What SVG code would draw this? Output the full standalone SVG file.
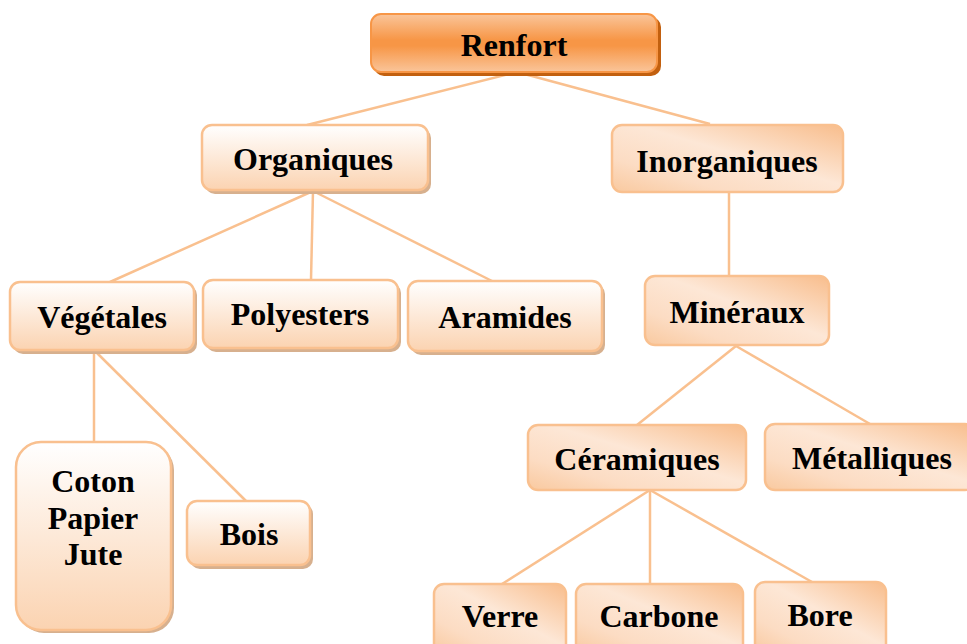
<svg xmlns="http://www.w3.org/2000/svg" width="967" height="644" viewBox="0 0 967 644">
<defs>
<linearGradient id="gTop" x1="0" y1="0" x2="0" y2="1">
<stop offset="0" stop-color="#fac59a"/>
<stop offset="0.45" stop-color="#f79646"/>
<stop offset="0.55" stop-color="#f79646"/>
<stop offset="1" stop-color="#fac59a"/>
</linearGradient>
<linearGradient id="gV" x1="0" y1="0" x2="0" y2="1">
<stop offset="0" stop-color="#ffffff"/>
<stop offset="1" stop-color="#fbd3b1"/>
</linearGradient>
<linearGradient id="gD" x1="1" y1="0" x2="0" y2="1">
<stop offset="0" stop-color="#f8bd8c"/>
<stop offset="0.45" stop-color="#fde7d6"/>
<stop offset="0.75" stop-color="#fcdcc3"/>
<stop offset="1" stop-color="#f9c99f"/>
</linearGradient>
</defs>
<style>
.t{font-family:"Liberation Serif","Times New Roman",serif;font-weight:bold;font-size:32px;fill:#000;text-anchor:middle}
.bv{fill:url(#gV);stroke:#f9c08f;stroke-width:2.5}
.bd{fill:url(#gD);stroke:#f9c08f;stroke-width:2.5}
.sh{fill:#d7b08e}
.ln{stroke:#f9c08f;stroke-width:2.5;fill:none}
</style>
<g id="connectors">
<line class="ln" x1="517" y1="72" x2="307" y2="125"/>
<line class="ln" x1="517" y1="72" x2="710" y2="124"/>
<line class="ln" x1="313" y1="191" x2="110" y2="282"/>
<line class="ln" x1="313" y1="191" x2="311" y2="280"/>
<line class="ln" x1="313" y1="191" x2="492" y2="281"/>
<line class="ln" x1="729" y1="192" x2="729" y2="276"/>
<line class="ln" x1="736" y1="346" x2="637" y2="425"/>
<line class="ln" x1="736" y1="346" x2="870" y2="424"/>
<line class="ln" x1="94" y1="350" x2="94" y2="442"/>
<line class="ln" x1="94" y1="350" x2="246" y2="501"/>
<line class="ln" x1="650" y1="490" x2="502" y2="584"/>
<line class="ln" x1="650" y1="490" x2="650" y2="584"/>
<line class="ln" x1="650" y1="490" x2="812" y2="582"/>
</g>
<g id="renfort">
<rect x="374" y="17" width="287" height="59" rx="10" fill="#c2600f"/>
<rect x="371" y="14" width="286" height="58" rx="10" fill="url(#gTop)" stroke="#f79646" stroke-width="2"/>
<text class="t" x="514" y="56">Renfort</text>
</g>
<g id="organiques">
<rect class="sh" x="205" y="128" width="226" height="66" rx="10"/>
<rect class="bv" x="202" y="125" width="226" height="65" rx="10"/>
<text class="t" x="313" y="170">Organiques</text>
</g>
<g id="inorganiques">
<rect class="bd" x="612" y="125" width="231" height="67" rx="10"/>
<text class="t" x="727" y="172">Inorganiques</text>
</g>
<g id="vegetales">
<rect class="sh" x="13" y="285" width="184" height="69" rx="10"/>
<rect class="bv" x="10" y="282" width="184" height="68" rx="10"/>
<text class="t" x="102" y="328">Végétales</text>
</g>
<g id="polyesters">
<rect class="sh" x="206" y="283" width="195" height="69" rx="10"/>
<rect class="bv" x="203" y="280" width="195" height="68" rx="10"/>
<text class="t" x="300" y="325">Polyesters</text>
</g>
<g id="aramides">
<rect class="sh" x="411" y="284" width="194" height="71" rx="10"/>
<rect class="bv" x="408" y="281" width="194" height="70" rx="10"/>
<text class="t" x="505" y="328">Aramides</text>
</g>
<g id="mineraux">
<rect class="bd" x="645" y="276" width="184" height="69" rx="10"/>
<text class="t" x="737" y="323">Minéraux</text>
</g>
<g id="ceramiques">
<rect class="bd" x="528" y="425" width="218" height="65" rx="10"/>
<text class="t" x="637" y="470">Céramiques</text>
</g>
<g id="metalliques">
<rect class="bd" x="765" y="424" width="210" height="66" rx="10"/>
<text class="t" x="872" y="469">Métalliques</text>
</g>
<g id="coton">
<rect class="sh" x="19" y="445" width="155" height="188" rx="25"/>
<rect class="bv" x="16" y="442" width="155" height="188" rx="25"/>
<text class="t" x="93" y="492">Coton</text>
<text class="t" x="93" y="529">Papier</text>
<text class="t" x="93" y="565">Jute</text>
</g>
<g id="bois">
<rect class="sh" x="190" y="504" width="123" height="65" rx="10"/>
<rect class="bv" x="187" y="501" width="123" height="64" rx="10"/>
<text class="t" x="249" y="545">Bois</text>
</g>
<g id="verre">
<rect class="bd" x="434" y="584" width="132" height="70" rx="10"/>
<text class="t" x="500" y="627">Verre</text>
</g>
<g id="carbone">
<rect class="bd" x="576" y="584" width="167" height="70" rx="10"/>
<text class="t" x="659" y="627">Carbone</text>
</g>
<g id="bore">
<rect class="bd" x="755" y="582" width="131" height="72" rx="10"/>
<text class="t" x="820" y="626">Bore</text>
</g>
</svg>
